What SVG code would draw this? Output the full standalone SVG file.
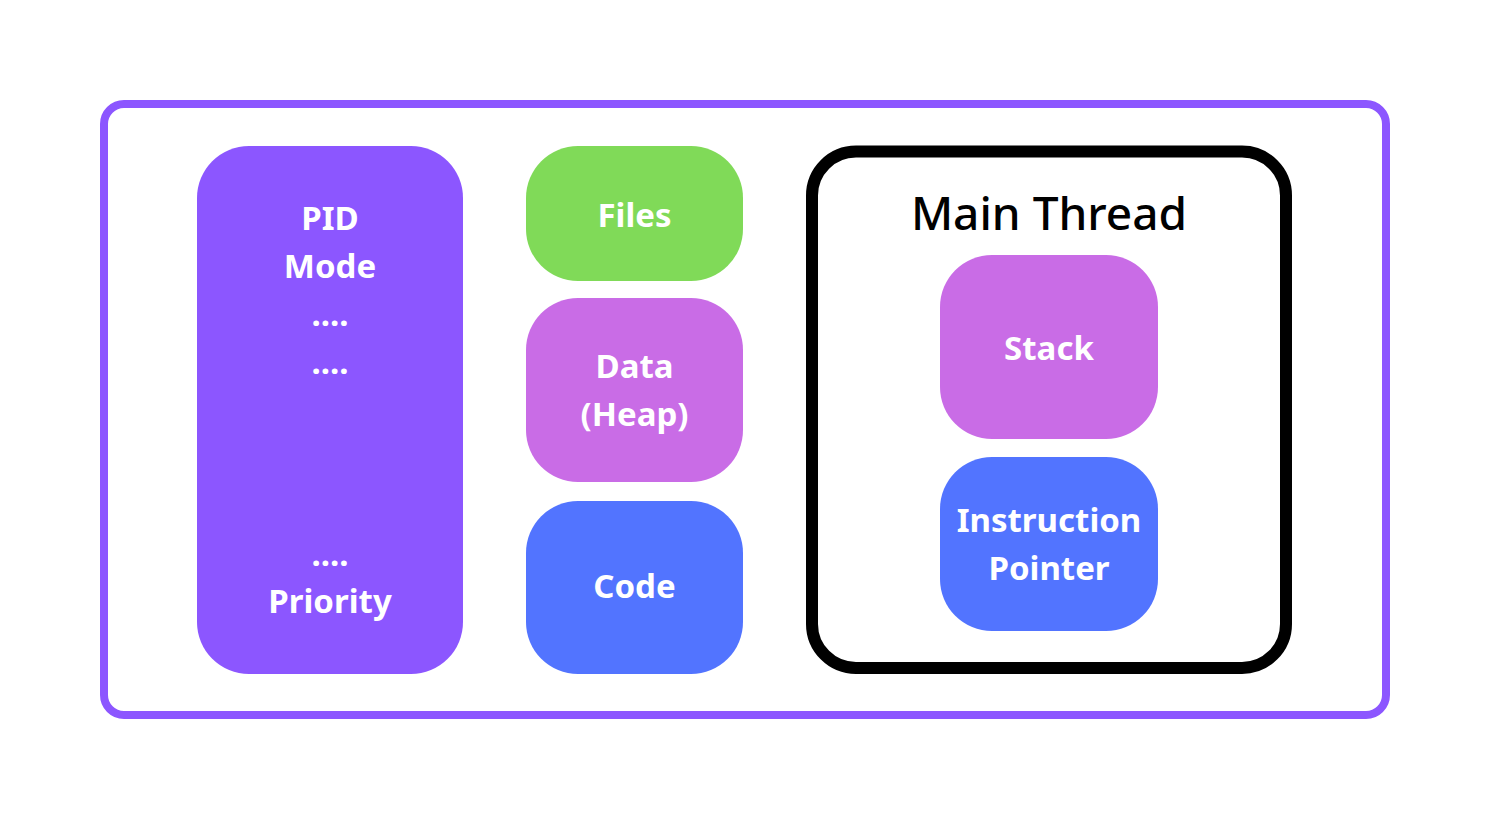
<svg xmlns="http://www.w3.org/2000/svg" width="1493" height="820" viewBox="0 0 1493 820">
<style>
.lbl{font-family:"Noto Sans","Open Sans","Liberation Sans",sans-serif;font-weight:700;font-size:33px;fill:#ffffff;text-anchor:middle}
.ttl{font-family:"Noto Sans","Open Sans","Liberation Sans",sans-serif;font-weight:500;font-size:46px;fill:#000000;text-anchor:middle}
</style>
<rect width="1493" height="820" fill="#ffffff"/>
<g id="process">
<rect x="104" y="104" width="1282" height="611" rx="20" fill="#ffffff" stroke="#8C56FF" stroke-width="8"/>
</g>
<g id="pcb">
<rect x="197" y="146" width="266" height="528" rx="52" fill="#8C56FF"/>
<text class="lbl" x="330" y="230">PID</text>
<text class="lbl" x="330" y="278">Mode</text>
<text class="lbl" x="330" y="326">....</text>
<text class="lbl" x="330" y="374">....</text>
<text class="lbl" x="330" y="566">....</text>
<text class="lbl" x="330" y="613">Priority</text>
</g>
<g id="files">
<rect x="526" y="146" width="217" height="135" rx="52" fill="#80DA58"/>
<text class="lbl" x="634.5" y="227">Files</text>
</g>
<g id="data">
<rect x="526" y="298" width="217" height="184" rx="52" fill="#C96CE6"/>
<text class="lbl" x="634.5" y="378">Data</text>
<text class="lbl" x="634.5" y="426">(Heap)</text>
</g>
<g id="code">
<rect x="526" y="501" width="217" height="173" rx="52" fill="#5274FF"/>
<text class="lbl" x="634.5" y="598">Code</text>
</g>
<g id="main-thread">
<rect x="812" y="151.5" width="474" height="516.5" rx="44" fill="#ffffff" stroke="#000000" stroke-width="12"/>
<text class="ttl" x="1049" y="230">Main Thread</text>
</g>
<g id="stack">
<rect x="940" y="255" width="218" height="184" rx="52" fill="#C96CE6"/>
<text class="lbl" x="1049" y="360">Stack</text>
</g>
<g id="instruction-pointer">
<rect x="940" y="457" width="218" height="174" rx="52" fill="#5274FF"/>
<text class="lbl" x="1049" y="532">Instruction</text>
<text class="lbl" x="1049" y="580">Pointer</text>
</g>
<g id="connectors"></g>
</svg>
